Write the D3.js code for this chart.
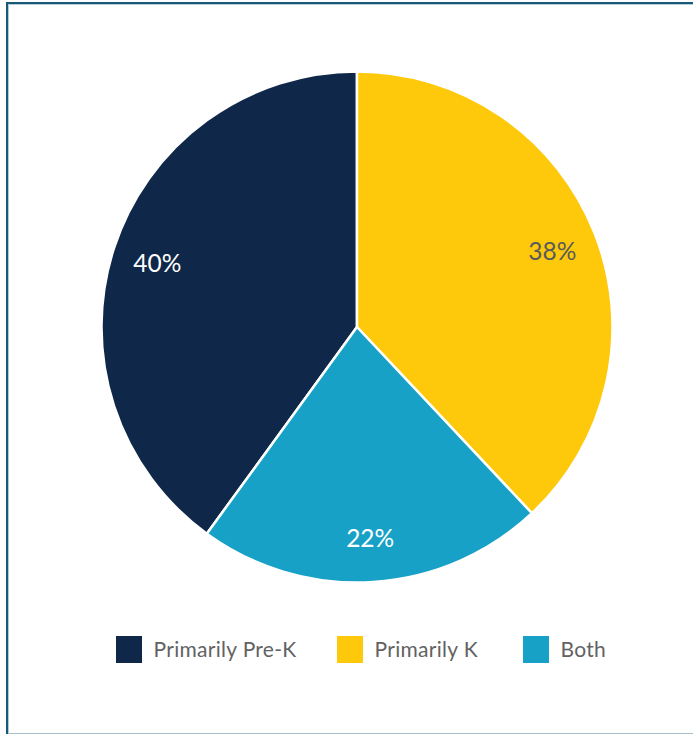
<!DOCTYPE html>
<html>
<head>
<meta charset="utf-8">
<script src="https://cdn.jsdelivr.net/npm/d3@7"></script>
<style>
  html, body { margin: 0; padding: 0; background: #fff; }
  svg { display: block; }
  text { font-family: "Lato", "Open Sans", sans-serif; }
</style>
</head>
<body>
<svg id="chart" width="693" height="734"></svg>
<script>
// Share of programs by grade focus
const categories = ["Primarily Pre-K", "Primarily K", "Both"];
const shares = [40, 38, 22];
const colors = ["#0f2849", "#fec90a", "#17a1c7"];
const labelColors = ["#ffffff", "#5a5a5a", "#ffffff"];

const W = 693, H = 734;
const cx = 357, cy = 327, radius = 255.5;

const svg = d3.select("#chart");

// panel frame: dark top/left edge with a light inner rule, light bottom rule
const frame = svg.append("g");
frame.append("rect").attr("x", 6).attr("y", 2).attr("width", W - 6).attr("height", 2).attr("fill", "#165a78");
frame.append("rect").attr("x", 6).attr("y", 2).attr("width", 2).attr("height", H - 2).attr("fill", "#165a78");
frame.append("rect").attr("x", 8).attr("y", 4).attr("width", W - 8).attr("height", 1).attr("fill", "#b4ccd7");
frame.append("rect").attr("x", 8).attr("y", 4).attr("width", 1).attr("height", H - 4).attr("fill", "#b4ccd7");
frame.append("rect").attr("x", 8).attr("y", H - 1).attr("width", W - 8).attr("height", 1).attr("fill", "#a9c1cc");

const total = d3.sum(shares);
// first slice ends at twelve o'clock
const start = -2 * Math.PI * shares[0] / total;

const pie = d3.pie().sort(null).value(d => d)
  .startAngle(start).endAngle(start + 2 * Math.PI);
const arcs = pie(shares);

const arc = d3.arc().innerRadius(0).outerRadius(radius);
const labelArc = d3.arc().innerRadius(210).outerRadius(210);

const g = svg.append("g").attr("transform", `translate(${cx},${cy})`);

g.selectAll("path.slice")
  .data(arcs)
  .join("path")
  .attr("class", "slice")
  .attr("d", arc)
  .attr("fill", (d, i) => colors[i])
  .attr("stroke", "#ffffff")
  .attr("stroke-width", 2.5)
  .attr("stroke-linejoin", "round");

g.selectAll("text.pct")
  .data(arcs)
  .join("text")
  .attr("class", "pct")
  .attr("transform", d => `translate(${labelArc.centroid(d)})`)
  .attr("text-anchor", "middle")
  .attr("dy", "0.42em")
  .attr("font-size", 24.5)
  .attr("fill", (d, i) => labelColors[i])
  .text(d => d3.format(".0f")(d.data) + "%");

// legend
const legendX = [116, 337, 523];
const legend = svg.append("g").attr("transform", "translate(0,636)");
const item = legend.selectAll("g.item")
  .data(categories)
  .join("g")
  .attr("class", "item")
  .attr("transform", (d, i) => `translate(${legendX[i]},0)`);
item.append("rect")
  .attr("width", 26).attr("height", 27)
  .attr("fill", (d, i) => colors[i]);
item.append("text")
  .attr("x", 37.5).attr("y", 13.5)
  .attr("dy", "0.36em")
  .attr("font-size", 21)
  .attr("letter-spacing", 0.3)
  .attr("fill", "#626262")
  .text(d => d);
</script>
</body>
</html>
